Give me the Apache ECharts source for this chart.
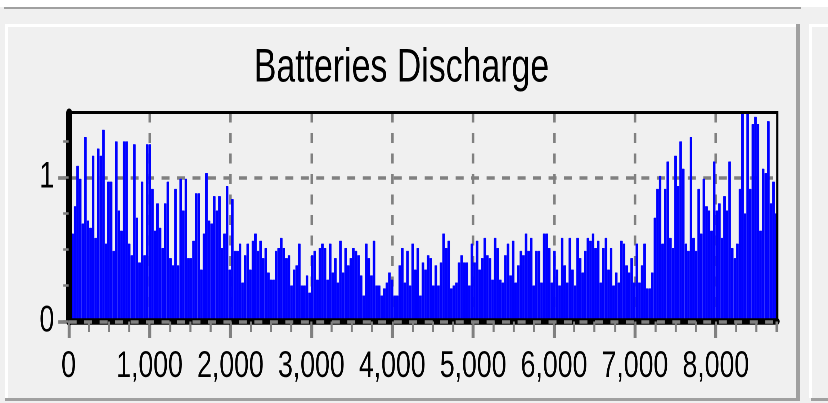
<!DOCTYPE html>
<html>
<head>
<meta charset="utf-8">
<title>Batteries Discharge</title>
<script src="https://cdn.jsdelivr.net/npm/echarts@6/dist/echarts.min.js"></script>
<style>
  html, body { margin: 0; padding: 0; background: #f0f0f0; }
  body { width: 828px; height: 403px; position: relative; overflow: hidden; }
  .fr { position: absolute; }
  /* the source picture is squeezed sideways, so the chart is drawn wider and scaled back */
  #chart { position: absolute; left: 0; top: 0; width: 1150px; height: 403px;
           transform: scaleX(0.72); transform-origin: 0 0; }
</style>
</head>
<body>
<!-- window frame around the panel -->
<div class="fr" style="left:0;top:0;width:828px;height:7px;background:#fff"></div>
<div class="fr" style="left:4px;top:7px;width:797px;height:2px;background:#a0a0a0"></div>
<div class="fr" style="left:5px;top:24px;width:792px;height:3px;background:#fff"></div>
<div class="fr" style="left:5px;top:24px;width:3px;height:376px;background:#fff"></div>
<div class="fr" style="left:796px;top:24px;width:4px;height:377px;background:#a0a0a0"></div>
<div class="fr" style="left:5px;top:398px;width:795px;height:3px;background:#a0a0a0"></div>
<div class="fr" style="left:809px;top:24px;width:19px;height:3px;background:#fff"></div>
<div class="fr" style="left:809px;top:24px;width:3px;height:374px;background:#fff"></div>
<div class="fr" style="left:811px;top:398px;width:17px;height:3px;background:#a0a0a0"></div>

<div id="chart"></div>
<script>
var titleText = 'Batteries Discharge';
var hoursInYear = 8760;

// tick marks / labels
var xLabelTicks = [0, 1000, 2000, 3000, 4000, 5000, 6000, 7000, 8000];
var yLabelTicks = [0, 1];
var yMinorTicks = [0, 0.25, 0.5, 0.75, 1, 1.25];

// discharge, one value per bucket of the year
var part1 = [1.13,0.61,0.80,1.08,0.99,0.68,1.28,0.70,0.65,1.15,0.58,1.20,1.15,1.33,0.54,0.97,0.97,0.49,1.25,0.77,0.63,1.25,1.25,0.54,0.46,1.23,0.72,0.41,0.97,0.46,1.23,1.23,0.92,0.63,0.82,0.65,0.51,0.82,0.97,0.44,0.39,0.92,0.39,0.99,0.77,0.99,0.44];
var part2 = [0.44,0.56,0.89,0.89,0.36,0.61,1.03,0.70,0.68,0.87,0.77,0.87,0.51,0.61,0.94,0.36,0.85,0.49,0.49,0.54,0.27,0.46,0.54,0.36,0.56,0.61,0.49,0.56,0.44,0.51,0.34,0.29,0.29,0.49,0.51,0.58,0.51,0.44,0.46,0.25,0.36,0.39,0.54,0.25,0.25,0.32,0.20];
var part3 = [0.46,0.49,0.29,0.51,0.54,0.51,0.29,0.54,0.34,0.44,0.27,0.56,0.34,0.51,0.39,0.44,0.51,0.49,0.46,0.32,0.18,0.54,0.44,0.32,0.56,0.25,0.25,0.18,0.23,0.27,0.34,0.29,0.18,0.18,0.39,0.51,0.27,0.49,0.25,0.54,0.36,0.51,0.18,0.41,0.36,0.46];
var part4 = [0.44,0.25,0.39,0.25,0.41,0.61,0.51,0.56,0.23,0.25,0.27,0.41,0.46,0.41,0.41,0.25,0.54,0.41,0.56,0.36,0.44,0.58,0.46,0.44,0.29,0.58,0.51,0.29,0.27,0.46,0.54,0.32,0.56,0.27,0.39,0.49,0.46,0.61,0.49,0.58,0.25,0.49,0.49,0.27,0.61,0.61];
var part5 = [0.51,0.27,0.49,0.36,0.25,0.58,0.39,0.27,0.58,0.36,0.25,0.58,0.44,0.34,0.49,0.58,0.56,0.61,0.51,0.56,0.27,0.51,0.58,0.36,0.51,0.25,0.34,0.27,0.56,0.54,0.39,0.34,0.44,0.27,0.54,0.27,0.39,0.54,0.23,0.23,0.34,0.72,0.92,1.01,0.54,0.92,1.11];
var part6 = [0.58,0.51,1.15,0.94,1.25,1.06,0.54,0.49,1.28,0.58,0.49,0.92,0.61,0.99,0.80,0.77,0.63,1.11,0.77,0.82,0.58,0.87,0.77,1.11,0.51,0.44,0.54,0.92,1.50,0.75,1.50,0.92,1.37,1.42,1.37,0.63,1.06,1.03,1.39,0.82,0.97,0.75];

var discharge = part1.concat(part2, part3, part4, part5, part6);
var bucket = hoursInYear / discharge.length;
var barData = discharge.map(function (v, i) { return [(i + 0.5) * bucket, v]; });

var FONT = "'Liberation Sans', Arial, sans-serif";
var GRAY = '#808080';

var chart = echarts.init(document.getElementById('chart'), null, {renderer: 'canvas', devicePixelRatio: 2});
var option = {
    animation: false,
    title: {
        text: titleText,
        left: 557.6,
        top: 45,
        padding: 0,
        textAlign: 'center',
        textStyle: {fontFamily: FONT, fontSize: 47, fontWeight: 'normal', color: '#000'}
    },
    // black frame drawn over the bars
    grid: {
        left: 95.3, right: 70.4, top: 112.5, bottom: 81.5,
        show: true, z: 3,
        backgroundColor: 'transparent',
        borderColor: '#000', borderWidth: 3
    },
    xAxis: [
        {   // grid lines + long ticks, behind the bars
            type: 'value', position: 'bottom', min: 0, max: hoursInYear, interval: 1000, z: 0,
            axisLine: {show: false},
            axisLabel: {show: false},
            axisTick: {show: true, customValues: xLabelTicks, length: 16.5, lineStyle: {color: GRAY, width: 4.2}},
            splitLine: {show: true, lineStyle: {color: GRAY, width: 3.5, type: [10, 10.5]}}
        },
        {   // axis line, short ticks, labels
            type: 'value', position: 'bottom', min: 0, max: hoursInYear, interval: 250, z: 3,
            axisLine: {show: true, onZero: false, lineStyle: {color: '#000', width: 6.5}},
            axisTick: {show: true, length: 10.5, lineStyle: {color: GRAY, width: 2.8}},
            axisLabel: {show: true, customValues: xLabelTicks, margin: 27,
                        fontFamily: FONT, fontSize: 37, color: '#000'},
            splitLine: {show: false}
        }
    ],
    yAxis: [
        {
            type: 'value', position: 'left', min: 0, max: 1.45, interval: 1, z: 0,
            axisLine: {show: false},
            axisLabel: {show: false},
            axisTick: {show: true, customValues: yLabelTicks, length: 14.3, lineStyle: {color: GRAY, width: 3.7}},
            splitLine: {show: true, lineStyle: {color: GRAY, width: 3.5, type: [11.1, 10.4]}}
        },
        {
            type: 'value', position: 'left', min: 0, max: 1.45, interval: 0.25, z: 3,
            axisLine: {show: true, onZero: false, lineStyle: {color: '#000', width: 8}},
            axisTick: {show: true, customValues: yMinorTicks, length: 7.4, lineStyle: {color: GRAY, width: 2.5}},
            axisLabel: {show: true, customValues: yLabelTicks, margin: 20,
                        fontFamily: FONT, fontSize: 37, color: '#000'},
            splitLine: {show: false}
        },
        {   // the dashed zero line sits on top of the black frame
            type: 'value', position: 'left', min: 0, max: 1.45, interval: 1.45, z: 4,
            axisLine: {show: false}, axisTick: {show: false}, axisLabel: {show: false},
            splitLine: {show: true, showMaxLine: false,
                        lineStyle: {color: GRAY, width: 3.5, type: [11.1, 10.4]}}
        }
    ],
    series: [{
        name: titleText,
        type: 'bar',
        xAxisIndex: 0,
        yAxisIndex: 0,
        data: barData,
        barWidth: '100%',
        z: 2,
        itemStyle: {color: '#0000ff', borderColor: '#0000ff', borderWidth: 0.5}
    }]
};
chart.setOption(option);
</script>
</body>
</html>
